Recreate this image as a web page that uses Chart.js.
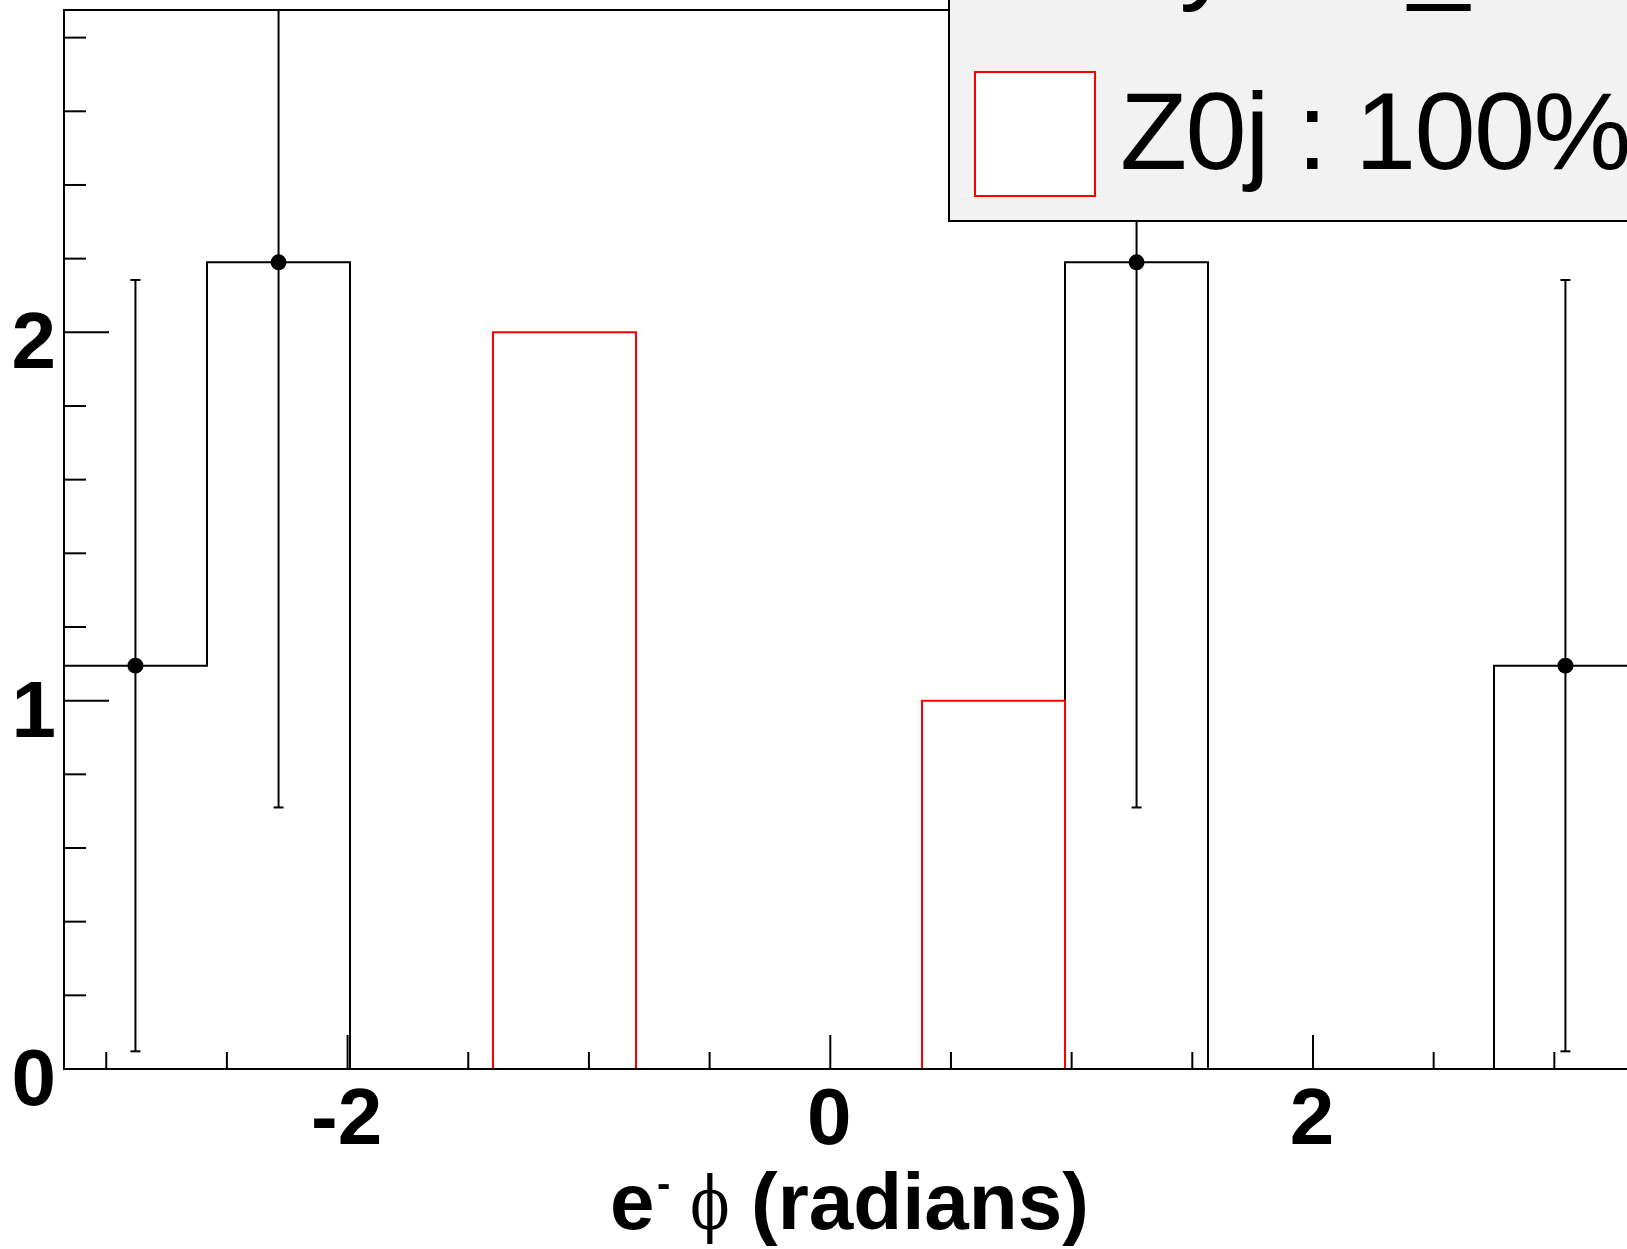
<!DOCTYPE html>
<html>
<head>
<meta charset="utf-8">
<script src="https://cdn.jsdelivr.net/npm/chart.js@4/dist/chart.umd.min.js"></script>
<style>
html,body{margin:0;padding:0;overflow:hidden;background:#fff;width:1627px;height:1249px}
canvas{display:block}
</style>
</head>
<body>
<canvas id="c" width="1700" height="1249"></canvas>
<script>
// ---- data ----
const binEdges   = [-3.175, -2.5825, -1.990, -1.3975, -0.805, -0.2125, 0.380, 0.9725, 1.565, 2.1575, 2.750, 3.3425];
const binCenters = [-2.879, -2.286, -1.694, -1.101, -0.509, 0.084, 0.676, 1.269, 1.861, 2.454, 3.046];
const dataCounts = [1.095, 2.19, 0, 0, 0, 0, 0, 2.19, 0, 0, 1.095];
const dataErrors = [1.047, 1.48, 0, 0, 0, 0, 0, 1.48, 0, 0, 1.047];
const z0jCounts  = [0, 0, 0, 2, 0, 0, 1, 0, 0, 0, 0];
const xTickLabels = [-2, 0, 2];
const xMinorTicks = [-3, -2.5, -1.5, -1, -0.5, 0.5, 1, 1.5, 2.5, 3];
const yTickLabels = [0, 1, 2];
const yMinorTicks = [0.2, 0.4, 0.6, 0.8, 1.2, 1.4, 1.6, 1.8, 2.2, 2.4, 2.6, 2.8];
const xTitle = {base: 'e', sup: '-', sym: '\u03D5', rest: '(radians)'};
const legendEntries = ['Ty : 6 _', 'Z0j : 100%'];
const yMin = 0, yMax = 2.875;

function stepPoints(counts) {
  const n = counts.length;
  const pts = [{x: binEdges[0], y: 0}];
  counts.forEach((v, i) => pts.push({x: binEdges[i], y: v}));
  pts.push({x: binEdges[n], y: counts[n - 1]});
  pts.push({x: binEdges[n], y: 0});
  return pts;
}
const markerPts = [];
dataCounts.forEach((v, i) => { if (v > 0) markerPts.push({x: binCenters[i], y: v, e: dataErrors[i]}); });

const SANS = '"Liberation Sans", Arial, Helvetica, sans-serif';

const rootPlugin = {
  id: 'rootStyle',
  afterDatasetsDraw(chart) {
    const {ctx, chartArea: a, scales: {x, y}} = chart;
    ctx.save();
    ctx.beginPath(); ctx.rect(a.left, a.top, a.right - a.left, a.bottom - a.top); ctx.clip();
    ctx.strokeStyle = '#000'; ctx.lineWidth = 2;
    markerPts.forEach(p => {
      const px = x.getPixelForValue(p.x);
      const lo = y.getPixelForValue(p.y - p.e);
      const hi = y.getPixelForValue(p.y + p.e);
      ctx.beginPath(); ctx.moveTo(px, lo); ctx.lineTo(px, hi); ctx.stroke();
      ctx.beginPath(); ctx.moveTo(px - 5, lo); ctx.lineTo(px + 5, lo); ctx.stroke();
      ctx.beginPath(); ctx.moveTo(px - 5, hi); ctx.lineTo(px + 5, hi); ctx.stroke();
    });
    ctx.restore();
  },
  afterDraw(chart) {
    const {ctx, chartArea: a, scales: {x, y}} = chart;
    ctx.save();
    // frame
    ctx.strokeStyle = '#000'; ctx.lineWidth = 2;
    ctx.strokeRect(a.left, a.top, a.right - a.left, a.bottom - a.top);
    // y ticks
    yTickLabels.forEach(v => { const py = y.getPixelForValue(v); ctx.beginPath(); ctx.moveTo(a.left, py); ctx.lineTo(a.left + 45, py); ctx.stroke(); });
    yMinorTicks.forEach(v => { const py = y.getPixelForValue(v); ctx.beginPath(); ctx.moveTo(a.left, py); ctx.lineTo(a.left + 22, py); ctx.stroke(); });
    // x ticks
    xTickLabels.forEach(v => { const px = x.getPixelForValue(v); ctx.beginPath(); ctx.moveTo(px, a.bottom); ctx.lineTo(px, a.bottom - 34); ctx.stroke(); });
    xMinorTicks.forEach(v => { const px = x.getPixelForValue(v); ctx.beginPath(); ctx.moveTo(px, a.bottom); ctx.lineTo(px, a.bottom - 17); ctx.stroke(); });
    // tick labels
    ctx.fillStyle = '#000';
    ctx.font = 'bold 80px ' + SANS;
    ctx.textAlign = 'right'; ctx.textBaseline = 'alphabetic';
    yTickLabels.forEach(v => ctx.fillText(String(v), a.left - 8, y.getPixelForValue(v) + 36));
    ctx.textAlign = 'center';
    xTickLabels.forEach(v => ctx.fillText(String(v), x.getPixelForValue(v) - 1, 1144));
    // x title
    ctx.textAlign = 'left';
    ctx.font = 'bold 80px ' + SANS;
    ctx.fillText(xTitle.base, 610, 1229);
    ctx.font = 'bold 40px ' + SANS;
    ctx.fillText(xTitle.sup, 657, 1197);
    ctx.save();
    ctx.translate(710, 1229);
    ctx.scale(0.8, 1);
    ctx.font = '72px "DejaVu Serif", "Liberation Serif", serif';
    ctx.textAlign = 'center';
    ctx.fillText(xTitle.sym, 0, 0);
    ctx.restore();
    ctx.textAlign = 'left';
    ctx.font = 'bold 80px ' + SANS;
    ctx.fillText(xTitle.rest, 751, 1229);
    // legend
    ctx.fillStyle = '#f2f2f2';
    ctx.fillRect(949, -200, 900, 421);
    ctx.strokeStyle = '#000'; ctx.lineWidth = 2;
    ctx.strokeRect(949, -200, 900, 421);
    ctx.fillStyle = '#000';
    ctx.font = '110px ' + SANS;
    ctx.textAlign = 'left';
    try { ctx.letterSpacing = '-1.6px'; } catch (e) {}
    ctx.fillText(legendEntries[0], 1120, -11);
    ctx.fillText(legendEntries[1], 1120, 169);
    try { ctx.letterSpacing = '0px'; } catch (e) {}
    ctx.fillStyle = '#fff';
    ctx.fillRect(975, 72, 120, 124);
    ctx.strokeStyle = '#ff0000'; ctx.lineWidth = 2;
    ctx.strokeRect(975, 72, 120, 124);
    ctx.restore();
  }
};

new Chart(document.getElementById('c'), {
  type: 'line',
  data: {
    datasets: [
      {type: 'scatter', label: 'points', data: markerPts, order: 0, pointRadius: 8, pointHoverRadius: 8,
       pointBackgroundColor: '#000', pointBorderWidth: 0, showLine: false},
      {label: 'Z0j', data: stepPoints(z0jCounts), order: 1, stepped: true, borderColor: '#ff0000',
       borderWidth: 2, pointRadius: 0, fill: false},
      {label: 'data', data: stepPoints(dataCounts), order: 2, stepped: true, borderColor: '#000',
       borderWidth: 2, pointRadius: 0, fill: false}
    ]
  },
  options: {
    responsive: false, animation: false, devicePixelRatio: 1,
    layout: {padding: {left: 64, top: 10, right: 63, bottom: 180}},
    plugins: {legend: {display: false}, tooltip: {enabled: false}},
    events: [],
    scales: {
      x: {type: 'linear', min: binEdges[0], max: binEdges[binEdges.length - 1], display: false},
      y: {type: 'linear', min: yMin, max: yMax, display: false}
    }
  },
  plugins: [rootPlugin]
});
</script>
</body>
</html>
